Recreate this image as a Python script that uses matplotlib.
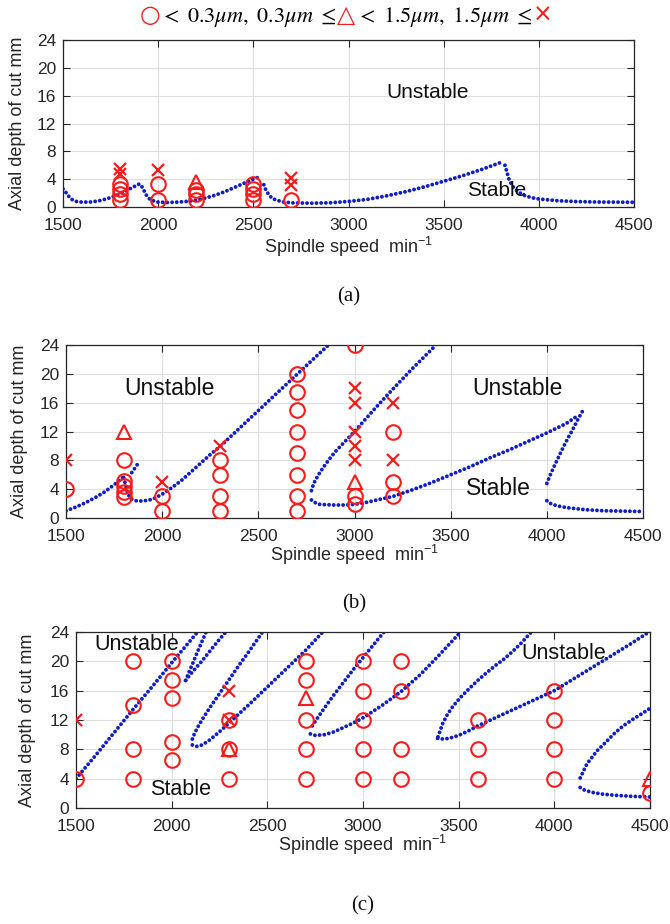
import matplotlib
matplotlib.use("Agg")
import matplotlib.pyplot as plt

plt.rcParams['font.family'] = ['Liberation Sans', 'DejaVu Sans']
plt.rcParams['mathtext.fontset'] = 'custom'
plt.rcParams['mathtext.rm'] = 'Liberation Sans'
plt.rcParams['mathtext.it'] = 'Liberation Sans:italic'
plt.rcParams['mathtext.bf'] = 'Liberation Sans:bold'

# ---------------------------------------------------------------- data
speed_ticks = [1500, 2000, 2500, 3000, 3500, 4000, 4500]
depth_ticks = [0, 4, 8, 12, 16, 20, 24]

# (a) stability lobes: (speed, depth) per branch
a_lobes = [
    ([1500, 1510, 1525, 1545, 1570, 1600, 1650, 1700, 1750, 1800, 1850, 1900],
     [2.6, 2.3, 1.7, 1.1, 0.8, 0.7, 0.72, 0.95, 1.35, 1.9, 2.6, 3.3]),
    ([1915, 1925, 1940, 1960, 2000, 2050, 2100, 2150, 2200, 2250, 2300, 2350,
      2400, 2450, 2500, 2540],
     [2.9, 2.4, 1.6, 1.0, 0.7, 0.65, 0.7, 0.8, 1.0, 1.3, 1.7, 2.2, 2.8, 3.4,
      4.0, 4.4]),
    ([2555, 2565, 2580, 2600, 2650, 2700, 2800, 2900, 3000, 3100, 3200, 3300,
      3400, 3500, 3600, 3700, 3800, 3810],
     [3.2, 2.5, 1.8, 1.2, 0.75, 0.6, 0.55, 0.6, 0.8, 1.1, 1.6, 2.2, 2.9, 3.7,
      4.5, 5.4, 6.4, 6.6]),
    ([3822, 3845, 3865, 3890, 3920, 3960, 4000, 4100, 4200, 4300, 4400, 4500],
     [6.0, 3.8, 2.9, 2.2, 1.7, 1.35, 1.15, 0.9, 0.78, 0.72, 0.7, 0.68]),
]
a_circles = [(1800, 1.05), (1800, 1.9), (1800, 2.6), (1800, 3.35),
             (2000, 1.0), (2000, 3.3),
             (2200, 1.0), (2200, 1.8), (2200, 2.5),
             (2500, 1.05), (2500, 1.9), (2500, 2.6), (2500, 3.35),
             (2700, 1.0)]
a_triangles = [(2200, 3.6)]
a_crosses = [(1800, 4.7), (1800, 5.5), (2000, 5.3), (2700, 3.2), (2700, 4.2)]
a_notes = [("Unstable", 3417, 16.5), ("Stable", 3780, 2.4)]

# (b) stability lobes
b_lobes = [
    ([1500, 1550, 1600, 1650, 1700, 1750, 1790, 1800],
     [1.0, 1.5, 2.1, 2.8, 3.6, 4.6, 5.5, 5.7]),
    ([1800, 1810, 1820, 1835, 1860, 1900, 1950, 2000, 2050, 2100, 2150, 2200,
      2250, 2300, 2400, 2500, 2600, 2700, 2800, 2865],
     [5.6, 4.6, 3.5, 2.7, 2.4, 2.35, 2.6, 3.3, 4.2, 5.2, 6.4, 7.6, 8.8, 9.9,
      12.4, 14.9, 17.4, 19.9, 22.4, 24.0]),
    ([1842, 1860, 1878], [6.3, 7.0, 7.7]),
    ([2776, 2788, 2800, 2815, 2840, 2870, 2900, 2950, 3000, 3050, 3100, 3200,
      3300, 3424],
     [3.8, 4.8, 5.4, 6.1, 7.1, 8.2, 9.2, 10.6, 12.0, 13.5, 15.0, 17.9, 20.7,
      24.0]),
    ([2776, 2790, 2815, 2850, 2900, 2950, 3000, 3050, 3100, 3150, 3200, 3300,
      3400, 3500, 3600, 3700, 3800, 3900, 4000, 4100, 4150],
     [2.5, 2.2, 1.9, 1.85, 1.8, 1.8, 1.9, 2.1, 2.4, 2.7, 3.0, 3.9, 4.9, 6.0,
      7.1, 8.3, 9.4, 10.6, 11.8, 13.1, 14.0]),
    ([4000, 4015, 4035, 4060, 4085, 4110, 4135, 4160, 4185],
     [4.8, 5.8, 7.0, 8.4, 9.8, 11.1, 12.3, 13.6, 14.8]),
    ([4000, 4020, 4040, 4070, 4100, 4150, 4200, 4300, 4400, 4500],
     [2.4, 2.0, 1.8, 1.6, 1.45, 1.3, 1.15, 1.0, 0.95, 0.9]),
]
b_circles = [(1500, 4.0),
             (1800, 8.0), (1800, 5.2), (1800, 4.4), (1800, 3.6), (1800, 2.9),
             (2000, 3.0), (2000, 1.0),
             (2300, 8.0), (2300, 6.0), (2300, 3.0), (2300, 1.0),
             (2700, 20.0), (2700, 17.5), (2700, 15.0), (2700, 12.0),
             (2700, 9.0), (2700, 6.0), (2700, 3.0), (2700, 1.0),
             (3000, 24.0), (3000, 3.1), (3000, 2.0),
             (3200, 12.0), (3200, 5.0), (3200, 3.0)]
b_triangles = [(1800, 12.0), (3000, 5.0)]
b_crosses = [(1500, 8.0), (2000, 5.0), (2300, 10.0),
             (3000, 18.0), (3000, 16.0), (3000, 12.0), (3000, 10.0),
             (3000, 8.0), (3200, 16.0), (3200, 8.0)]
b_notes = [("Unstable", 2040, 18.0), ("Unstable", 3847, 18.0),
           ("Stable", 3750, 4.1)]

# (c) stability lobes
c_lobes = [
    ([1500, 1600, 1700, 1800, 1900, 2000, 2100, 2135],
     [4.0, 7.1, 10.3, 13.5, 16.6, 19.8, 22.9, 24.0]),
    ([2073, 2090, 2110, 2130, 2155, 2180],
     [17.4, 18.5, 19.7, 21.0, 22.5, 24.0]),
    ([2073, 2100, 2130, 2160, 2200, 2240, 2283],
     [17.4, 18.3, 19.2, 20.1, 21.4, 22.7, 24.0]),
    ([2108, 2120, 2140, 2170, 2200, 2250, 2300, 2350, 2400, 2475],
     [9.4, 10.2, 11.2, 12.5, 13.7, 15.6, 17.5, 19.4, 21.2, 24.0]),
    ([2108, 2130, 2160, 2200, 2250, 2300, 2400, 2500, 2600, 2700, 2790],
     [8.6, 8.4, 8.6, 9.3, 10.4, 11.6, 14.0, 16.5, 19.0, 21.5, 24.0]),
    ([2735, 2760, 2800, 2850, 2900, 2950, 3000, 3050, 3100, 3110],
     [11.2, 12.2, 13.7, 15.5, 17.2, 18.9, 20.5, 22.1, 23.7, 24.0]),
    ([2725, 2750, 2800, 2850, 2900, 2950, 3000, 3100, 3200, 3300, 3400, 3510],
     [10.1, 9.9, 10.0, 10.4, 11.0, 11.6, 12.3, 14.0, 15.9, 18.2, 20.9, 24.0]),
    ([3392, 3416, 3440, 3468, 3510, 3556, 3600, 3644, 3700, 3732, 3780, 3820,
      3880],
     [9.7, 11.5, 12.7, 13.8, 15.1, 16.3, 17.4, 18.4, 19.6, 20.2, 21.3, 22.3,
      24.0]),
    ([3390, 3420, 3450, 3500, 3550, 3600, 3700, 3800, 3900, 4000, 4100, 4200,
      4300, 4400, 4495],
     [9.5, 9.4, 9.5, 9.9, 10.5, 11.2, 12.4, 13.6, 14.8, 16.0, 17.6, 19.2,
      20.8, 22.4, 24.0]),
    ([4135, 4170, 4223, 4270, 4311, 4360, 4416, 4460, 4500],
     [4.1, 6.0, 7.8, 9.0, 10.1, 11.2, 12.2, 12.9, 13.6]),
    ([4135, 4160, 4205, 4250, 4311, 4400, 4500],
     [2.8, 2.4, 2.1, 1.9, 1.75, 1.6, 1.5]),
]
c_circles = [(1500, 4.0),
             (1800, 20.0), (1800, 14.0), (1800, 8.0), (1800, 4.0),
             (2000, 20.0), (2000, 17.5), (2000, 15.0), (2000, 9.0),
             (2000, 6.5),
             (2300, 12.0), (2300, 8.0), (2300, 4.0),
             (2700, 20.0), (2700, 17.5), (2700, 12.0), (2700, 8.0),
             (2700, 4.0),
             (3000, 20.0), (3000, 16.0), (3000, 12.0), (3000, 8.0),
             (3000, 4.0),
             (3200, 20.0), (3200, 16.0), (3200, 8.0), (3200, 4.0),
             (3600, 12.0), (3600, 8.0), (3600, 4.0),
             (4000, 16.0), (4000, 12.0), (4000, 8.0), (4000, 4.0),
             (4500, 2.0)]
c_triangles = [(2300, 8.0), (2700, 15.0), (4500, 4.0)]
c_crosses = [(1500, 12.0), (2300, 16.0), (2300, 12.0)]
c_notes = [("Unstable", 1816, 22.3), ("Stable", 2049, 2.5),
           ("Unstable", 4050, 21.1)]

# ---------------------------------------------------------------- layout
W, H = 670, 924
fig = plt.figure(figsize=(W / 100, H / 100), dpi=100)

LOBE_BLUE = '#0f1ec8'
MARK_RED = '#ff1a1a'
INK = '#262626'


def box(left, right, top, bottom):
    return [left / W, 1 - bottom / H, (right - left) / W, (bottom - top) / H]


def draw_panel(rect, lobes, circles, triangles, crosses, notes, note_size,
               xlabel_y, ylabel_x, caption_y, caption):
    ax = fig.add_axes(box(*rect))
    for xs, ys in lobes:
        ax.plot(xs, ys, color=LOBE_BLUE, lw=2.8,
                linestyle=(0, (0.01, 1.2)), dash_capstyle='round',
                zorder=2)
    if circles:
        cx, cy = zip(*circles)
        ax.plot(cx, cy, 'o', mfc='none', mec=MARK_RED, ms=10.5, mew=1.5,
                zorder=3)
    if triangles:
        tx, ty = zip(*triangles)
        ax.plot(tx, ty, '^', mfc='none', mec=MARK_RED, ms=10.5, mew=1.5,
                zorder=3)
    if crosses:
        xx, xy = zip(*crosses)
        ax.plot(xx, xy, 'x', color=MARK_RED, ms=8, mew=1.6, zorder=3)
    for s, x, y in notes:
        ax.text(x, y, s, fontsize=note_size, ha='center', va='center',
                color='#111111', zorder=4)
    ax.set_xlim(1500, 4500)
    ax.set_ylim(0, 24)
    ax.set_xticks(speed_ticks)
    ax.set_yticks(depth_ticks)
    ax.grid(True, color='#dedede', lw=0.8, zorder=0)
    ax.set_axisbelow(True)
    ax.tick_params(direction='in', top=True, right=True, length=5,
                   width=0.8, labelsize=12.5, colors=INK)
    ax.tick_params(axis='x', pad=8)
    ax.tick_params(axis='y', pad=5)
    for sp in ax.spines.values():
        sp.set_color(INK)
        sp.set_linewidth(0.9)
    left, right = rect[0], rect[1]
    fig.text((left + right) / 2 / W, 1 - xlabel_y / H,
             r"Spindle speed  min$^{-1}$", fontsize=13, color=INK,
             ha='center', va='center')
    fig.text(ylabel_x / W, 1 - (rect[2] + rect[3]) / 2 / H,
             "Axial depth of cut mm", fontsize=13, color=INK,
             rotation=90, ha='center', va='center')
    fig.text((left + right) / 2 / W, 1 - caption_y / H, caption,
             fontsize=15, family='Liberation Serif', color='#111111',
             ha='center', va='center')
    return ax


draw_panel((63, 634, 40, 207), a_lobes, a_circles, a_triangles, a_crosses,
           a_notes, 15, 247, 18, 297, "(a)")
draw_panel((66, 643, 345, 518), b_lobes, b_circles, b_triangles, b_crosses,
           b_notes, 16.5, 555, 20, 604, "(b)")
draw_panel((76, 650, 632, 808), c_lobes, c_circles, c_triangles, c_crosses,
           c_notes, 15.5, 845, 28, 906, "(c)")

# ---------------------------------------------------------------- header key
header_pieces = [
    ("\u25CB", MARK_RED, dict(fontsize=17, family='DejaVu Sans')),
    (r"$<\ 0.3\mu m,\ 0.3\mu m\ \leq$", 'black',
     dict(fontsize=16, math_fontfamily='stix')),
    ("\u25B3", MARK_RED, dict(fontsize=17, family='DejaVu Sans')),
    (r"$<\ 1.5\mu m,\ 1.5\mu m\ \leq$", 'black',
     dict(fontsize=16, math_fontfamily='stix')),
    ("\u00D7", MARK_RED, dict(fontsize=17, family='DejaVu Sans')),
]
fig.canvas.draw()
renderer = fig.canvas.get_renderer()
header_texts = [fig.text(0, 1 - 22 / H, s, color=c, ha='left',
                         va='baseline', **kw)
                for s, c, kw in header_pieces]
widths = [t.get_window_extent(renderer=renderer).width for t in header_texts]
x = 346 - sum(widths) / 2
for t, w in zip(header_texts, widths):
    t.set_x(x / W)
    x += w

fig.savefig("out.png", dpi=100)
